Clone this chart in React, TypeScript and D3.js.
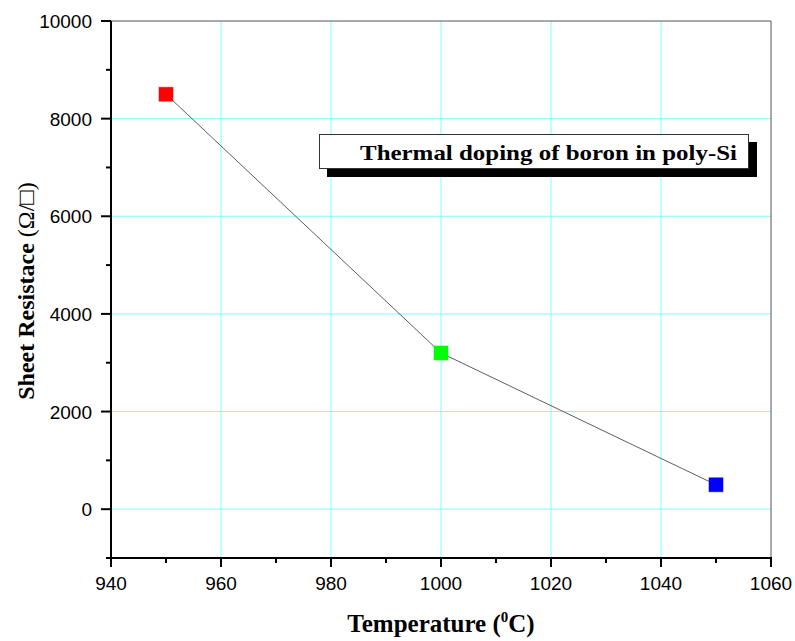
import React from "react";
import * as d3 from "d3";

const temperatures = [950, 1000, 1050];
const resistances = [8500, 3200, 500];
const markerColors = ["#ff0000", "#00ff00", "#0000ff"];
const xTicks = [940, 960, 980, 1000, 1020, 1040, 1060];
const xMinor = [950, 970, 990, 1010, 1030, 1050];
const yTicks = [0, 2000, 4000, 6000, 8000, 10000];
const yMinor = [-1000, 1000, 3000, 5000, 7000, 9000];
const legendText = "Thermal doping of boron in poly-Si";

const W = 795, H = 641;
const L = 111, R = 771, T = 21, B = 558;

export default function App() {
  const x = d3.scaleLinear().domain([940, 1060]).range([L, R]);
  const y = d3.scaleLinear().domain([-1000, 10000]).range([B, T]);
  const line = d3.line<number>().x((_, i) => x(temperatures[i])).y((d) => y(d));
  const grid = "#80ffff";
  const tickFont = "'Liberation Sans', Arial, sans-serif";
  const serif = "'Liberation Serif', 'Times New Roman', serif";
  return (
    <svg width={W} height={H} style={{ position: "absolute", left: 0, top: 0, background: "#fff" }}>
      <rect x={0} y={0} width={W} height={H} fill="#fff" />
      {/* grid */}
      {xTicks.filter((t) => t > 940 && t < 1060).map((t) => (
        <line key={"gx" + t} x1={x(t)} x2={x(t)} y1={T} y2={B} stroke={grid} strokeWidth={1} />
      ))}
      {yTicks.filter((t) => t < 10000).map((t) => (
        <line key={"gy" + t} x1={L} x2={R} y1={y(t)} y2={y(t)} stroke={grid} strokeWidth={1} />
      ))}
      {/* frame top/right */}
      <line x1={L} x2={R} y1={T} y2={T} stroke="#555" strokeWidth={1} />
      <line x1={R} x2={R} y1={T} y2={B} stroke="#555" strokeWidth={1} />
      {/* axes */}
      <line x1={L} x2={L} y1={T} y2={B + 1} stroke="#000" strokeWidth={2} />
      <line x1={L - 4} x2={R + 1} y1={B} y2={B} stroke="#000" strokeWidth={2} />
      {xTicks.map((t) => (
        <g key={"xt" + t}>
          <line x1={x(t)} x2={x(t)} y1={B} y2={B + 9} stroke="#000" strokeWidth={2} />
          <text x={x(t)} y={590} textAnchor="middle" fontFamily={tickFont} fontSize={19}>{t}</text>
        </g>
      ))}
      {xMinor.map((t) => (
        <line key={"xm" + t} x1={x(t)} x2={x(t)} y1={B} y2={B + 5} stroke="#000" strokeWidth={2} />
      ))}
      {yTicks.map((t) => (
        <g key={"yt" + t}>
          <line x1={L - 10} x2={L} y1={y(t)} y2={y(t)} stroke="#000" strokeWidth={2} />
          <text x={L - 19} y={y(t) + 7} textAnchor="end" fontFamily={tickFont} fontSize={19}>{t}</text>
        </g>
      ))}
      {yMinor.map((t) => (
        <line key={"ym" + t} x1={L - 5} x2={L} y1={y(t)} y2={y(t)} stroke="#000" strokeWidth={2} />
      ))}
      {/* data line */}
      <path d={line(resistances) || ""} fill="none" stroke="#333" strokeWidth={0.8} />
      {resistances.map((v, i) => (
        <rect key={"m" + i} x={x(temperatures[i]) - 7} y={y(v) - 7} width={14} height={14}
          fill={markerColors[i]} stroke={markerColors[i]} strokeOpacity={0.5} strokeWidth={1} />
      ))}
      {/* legend */}
      <rect x={327} y={142} width={430} height={35} fill="#000" />
      <rect x={319.5} y={134.5} width={429} height={34} fill="#fff" stroke="#333" strokeWidth={1} />
      <text x={360} y={160} fontFamily={serif} fontWeight="bold" fontSize={22}
        textLength={377} lengthAdjust="spacingAndGlyphs">{legendText}</text>
      {/* axis titles */}
      <text x={441} y={632} textAnchor="middle" fontFamily={serif} fontWeight="bold" fontSize={25}>
        Temperature (<tspan fontSize={15} dy={-10}>0</tspan><tspan dy={10}>C)</tspan>
      </text>
      <text transform="translate(34,291) rotate(-90)" textAnchor="middle" fontFamily={serif} fontWeight="bold" fontSize={24}>
        Sheet Resistace <tspan fontWeight="normal">(Ω/□)</tspan>
      </text>
    </svg>
  );
}
